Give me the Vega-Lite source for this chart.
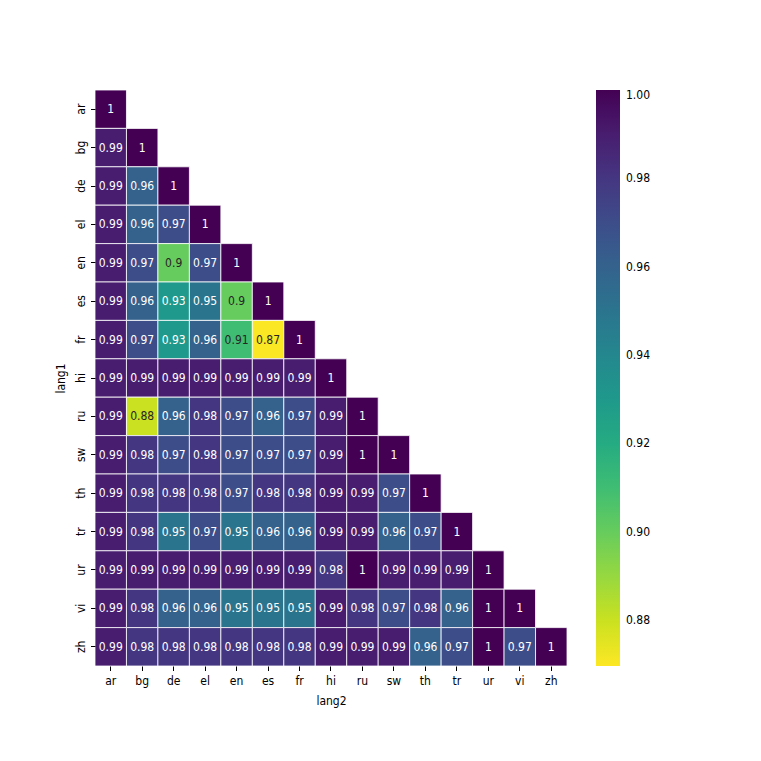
{
  "$schema": "https://vega.github.io/schema/vega-lite/v6.json",
  "width": 472,
  "height": 576,
  "autosize": "none",
  "padding": {"left": 95, "top": 90, "right": 194, "bottom": 95},
  "background": "white",
  "config": {
    "view": {"stroke": null},
    "font": "DejaVu Sans Condensed",
    "axis": {"labelFont": "DejaVu Sans Condensed", "titleFont": "DejaVu Sans Condensed", "labelFontSize": 12, "titleFontSize": 12, "labelColor": "black", "titleColor": "black", "tickColor": "black", "domain": false, "grid": false, "titleFontWeight": "normal", "tickSize": 4.5},
    "legend": {"labelFont": "DejaVu Sans Condensed", "labelFontSize": 12, "labelColor": "black"}
  },
  "data": {"values": [
    {"l1":"ar","l2":"ar","v":1},
    {"l1":"bg","l2":"ar","v":0.99},{"l1":"bg","l2":"bg","v":1},
    {"l1":"de","l2":"ar","v":0.99},{"l1":"de","l2":"bg","v":0.96},{"l1":"de","l2":"de","v":1},
    {"l1":"el","l2":"ar","v":0.99},{"l1":"el","l2":"bg","v":0.96},{"l1":"el","l2":"de","v":0.97},{"l1":"el","l2":"el","v":1},
    {"l1":"en","l2":"ar","v":0.99},{"l1":"en","l2":"bg","v":0.97},{"l1":"en","l2":"de","v":0.9},{"l1":"en","l2":"el","v":0.97},{"l1":"en","l2":"en","v":1},
    {"l1":"es","l2":"ar","v":0.99},{"l1":"es","l2":"bg","v":0.96},{"l1":"es","l2":"de","v":0.93},{"l1":"es","l2":"el","v":0.95},{"l1":"es","l2":"en","v":0.9},{"l1":"es","l2":"es","v":1},
    {"l1":"fr","l2":"ar","v":0.99},{"l1":"fr","l2":"bg","v":0.97},{"l1":"fr","l2":"de","v":0.93},{"l1":"fr","l2":"el","v":0.96},{"l1":"fr","l2":"en","v":0.91},{"l1":"fr","l2":"es","v":0.87},{"l1":"fr","l2":"fr","v":1},
    {"l1":"hi","l2":"ar","v":0.99},{"l1":"hi","l2":"bg","v":0.99},{"l1":"hi","l2":"de","v":0.99},{"l1":"hi","l2":"el","v":0.99},{"l1":"hi","l2":"en","v":0.99},{"l1":"hi","l2":"es","v":0.99},{"l1":"hi","l2":"fr","v":0.99},{"l1":"hi","l2":"hi","v":1},
    {"l1":"ru","l2":"ar","v":0.99},{"l1":"ru","l2":"bg","v":0.88},{"l1":"ru","l2":"de","v":0.96},{"l1":"ru","l2":"el","v":0.98},{"l1":"ru","l2":"en","v":0.97},{"l1":"ru","l2":"es","v":0.96},{"l1":"ru","l2":"fr","v":0.97},{"l1":"ru","l2":"hi","v":0.99},{"l1":"ru","l2":"ru","v":1},
    {"l1":"sw","l2":"ar","v":0.99},{"l1":"sw","l2":"bg","v":0.98},{"l1":"sw","l2":"de","v":0.97},{"l1":"sw","l2":"el","v":0.98},{"l1":"sw","l2":"en","v":0.97},{"l1":"sw","l2":"es","v":0.97},{"l1":"sw","l2":"fr","v":0.97},{"l1":"sw","l2":"hi","v":0.99},{"l1":"sw","l2":"ru","v":1},{"l1":"sw","l2":"sw","v":1},
    {"l1":"th","l2":"ar","v":0.99},{"l1":"th","l2":"bg","v":0.98},{"l1":"th","l2":"de","v":0.98},{"l1":"th","l2":"el","v":0.98},{"l1":"th","l2":"en","v":0.97},{"l1":"th","l2":"es","v":0.98},{"l1":"th","l2":"fr","v":0.98},{"l1":"th","l2":"hi","v":0.99},{"l1":"th","l2":"ru","v":0.99},{"l1":"th","l2":"sw","v":0.97},{"l1":"th","l2":"th","v":1},
    {"l1":"tr","l2":"ar","v":0.99},{"l1":"tr","l2":"bg","v":0.98},{"l1":"tr","l2":"de","v":0.95},{"l1":"tr","l2":"el","v":0.97},{"l1":"tr","l2":"en","v":0.95},{"l1":"tr","l2":"es","v":0.96},{"l1":"tr","l2":"fr","v":0.96},{"l1":"tr","l2":"hi","v":0.99},{"l1":"tr","l2":"ru","v":0.99},{"l1":"tr","l2":"sw","v":0.96},{"l1":"tr","l2":"th","v":0.97},{"l1":"tr","l2":"tr","v":1},
    {"l1":"ur","l2":"ar","v":0.99},{"l1":"ur","l2":"bg","v":0.99},{"l1":"ur","l2":"de","v":0.99},{"l1":"ur","l2":"el","v":0.99},{"l1":"ur","l2":"en","v":0.99},{"l1":"ur","l2":"es","v":0.99},{"l1":"ur","l2":"fr","v":0.99},{"l1":"ur","l2":"hi","v":0.98},{"l1":"ur","l2":"ru","v":1},{"l1":"ur","l2":"sw","v":0.99},{"l1":"ur","l2":"th","v":0.99},{"l1":"ur","l2":"tr","v":0.99},{"l1":"ur","l2":"ur","v":1},
    {"l1":"vi","l2":"ar","v":0.99},{"l1":"vi","l2":"bg","v":0.98},{"l1":"vi","l2":"de","v":0.96},{"l1":"vi","l2":"el","v":0.96},{"l1":"vi","l2":"en","v":0.95},{"l1":"vi","l2":"es","v":0.95},{"l1":"vi","l2":"fr","v":0.95},{"l1":"vi","l2":"hi","v":0.99},{"l1":"vi","l2":"ru","v":0.98},{"l1":"vi","l2":"sw","v":0.97},{"l1":"vi","l2":"th","v":0.98},{"l1":"vi","l2":"tr","v":0.96},{"l1":"vi","l2":"ur","v":1},{"l1":"vi","l2":"vi","v":1},
    {"l1":"zh","l2":"ar","v":0.99},{"l1":"zh","l2":"bg","v":0.98},{"l1":"zh","l2":"de","v":0.98},{"l1":"zh","l2":"el","v":0.98},{"l1":"zh","l2":"en","v":0.98},{"l1":"zh","l2":"es","v":0.98},{"l1":"zh","l2":"fr","v":0.98},{"l1":"zh","l2":"hi","v":0.99},{"l1":"zh","l2":"ru","v":0.99},{"l1":"zh","l2":"sw","v":0.99},{"l1":"zh","l2":"th","v":0.96},{"l1":"zh","l2":"tr","v":0.97},{"l1":"zh","l2":"ur","v":1},{"l1":"zh","l2":"vi","v":0.97},{"l1":"zh","l2":"zh","v":1}
  ]},
  "encoding": {
    "x": {"field": "l2", "type": "nominal", "sort": ["ar","bg","de","el","en","es","fr","hi","ru","sw","th","tr","ur","vi","zh"], "scale": {"domain": ["ar","bg","de","el","en","es","fr","hi","ru","sw","th","tr","ur","vi","zh"], "paddingInner": 0, "paddingOuter": 0}, "axis": {"title": "lang2", "labelAngle": 0, "labelPadding": 5, "titlePadding": 9}},
    "y": {"field": "l1", "type": "nominal", "sort": ["ar","bg","de","el","en","es","fr","hi","ru","sw","th","tr","ur","vi","zh"], "scale": {"domain": ["ar","bg","de","el","en","es","fr","hi","ru","sw","th","tr","ur","vi","zh"], "paddingInner": 0, "paddingOuter": 0}, "axis": {"title": "lang1", "labelAngle": -90, "labelAlign": "center", "labelBaseline": "bottom", "labelPadding": 3, "titlePadding": 7}}
  },
  "layer": [
    {
      "mark": {"type": "rect", "stroke": "white", "strokeWidth": 0.8},
      "encoding": {
        "color": {"field": "v", "type": "quantitative", "scale": {"scheme": "viridis", "reverse": true, "domain": [0.8696, 1]}, "legend": {"title": null, "orient": "right", "offset": 29, "gradientLength": 576, "gradientThickness": 24, "gradientStrokeWidth": 0, "values": [0.88, 0.9, 0.92, 0.94, 0.96, 0.98, 1.0], "format": ".2f", "labelOffset": 6}}
      }
    },
    {
      "mark": {"type": "text", "fontSize": 12, "font": "DejaVu Sans Condensed"},
      "encoding": {
        "text": {"field": "v", "type": "quantitative", "format": ".2~f"},
        "color": {"condition": {"test": "datum.v < 0.92", "value": "#262626"}, "value": "white"}
      }
    }
  ]
}
